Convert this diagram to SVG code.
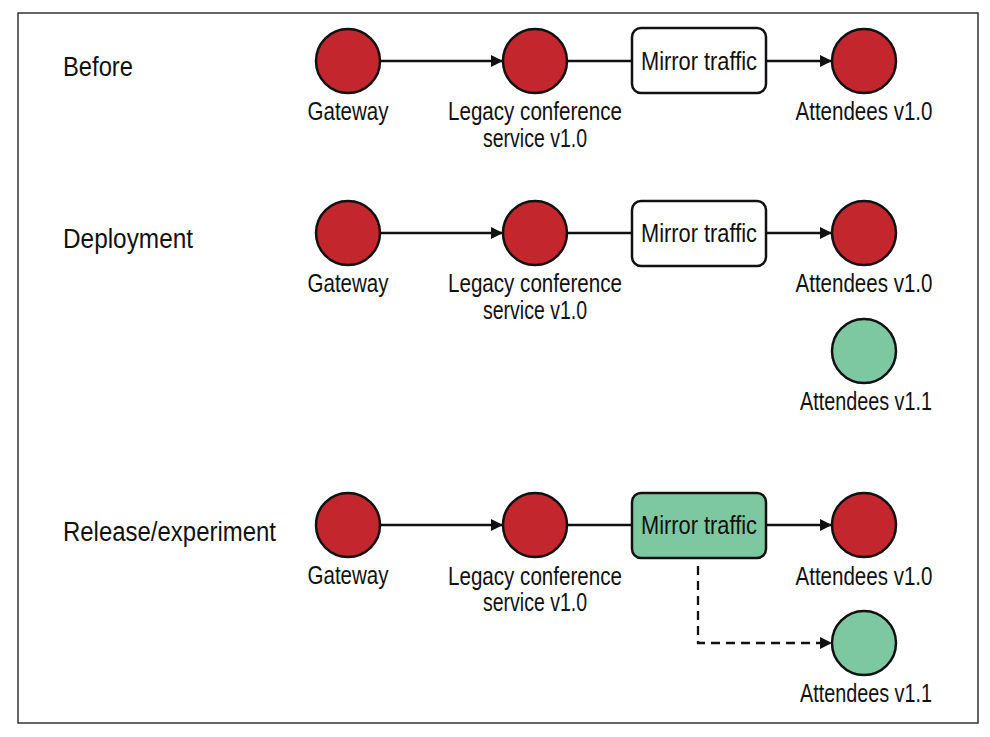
<svg xmlns="http://www.w3.org/2000/svg" width="990" height="737" viewBox="0 0 990 737">
<defs>
<style>
.frame{fill:#fff;stroke:#333;stroke-width:1.5}
.red{fill:#c4262e;stroke:#111;stroke-width:2.5}
.green{fill:#7ec8a1;stroke:#111;stroke-width:2.5}
.box{fill:#fff;stroke:#111;stroke-width:2.5}
.gbox{fill:#7ec8a1;stroke:#111;stroke-width:2.5}
.lbl{font-family:"Liberation Sans",Arial,sans-serif;font-size:25.5px;fill:#111;text-anchor:middle}
.sec{font-family:"Liberation Sans",Arial,sans-serif;font-size:27px;fill:#111}
.ln{fill:none;stroke:#111;stroke-width:2.3}
.dash{fill:none;stroke:#111;stroke-width:2.3;stroke-dasharray:9 6}
</style>
<marker id="ah" viewBox="0 0 10 10" refX="10" refY="5" markerWidth="12" markerHeight="12" markerUnits="userSpaceOnUse" orient="auto">
<path d="M0,0 L10,5 L0,10 Z" fill="#111"/>
</marker>
</defs>
<rect class="frame" x="18" y="13" width="960" height="710"/>

<g id="sections">
<text class="sec" x="63" y="76" textLength="70" lengthAdjust="spacingAndGlyphs">Before</text>
<text class="sec" x="63" y="248" textLength="130" lengthAdjust="spacingAndGlyphs">Deployment</text>
<text class="sec" x="63" y="541" textLength="213" lengthAdjust="spacingAndGlyphs">Release/experiment</text>
</g>

<g id="connectors">
<line class="ln" x1="380" y1="61" x2="503" y2="61" marker-end="url(#ah)"/>
<line class="ln" x1="567" y1="61" x2="632" y2="61"/>
<line class="ln" x1="766" y1="61" x2="832" y2="61" marker-end="url(#ah)"/>
<line class="ln" x1="380" y1="233" x2="503" y2="233" marker-end="url(#ah)"/>
<line class="ln" x1="567" y1="233" x2="632" y2="233"/>
<line class="ln" x1="766" y1="233" x2="832" y2="233" marker-end="url(#ah)"/>
<line class="ln" x1="380" y1="525" x2="503" y2="525" marker-end="url(#ah)"/>
<line class="ln" x1="567" y1="525" x2="632" y2="525"/>
<line class="ln" x1="766" y1="525" x2="832" y2="525" marker-end="url(#ah)"/>
<path class="dash" d="M698,566 V643 H832" marker-end="url(#ah)"/>
</g>

<g id="gateway1"><circle class="red" cx="348" cy="61" r="32"/><text class="lbl" x="348" y="120" textLength="81" lengthAdjust="spacingAndGlyphs">Gateway</text></g>
<g id="legacy1"><circle class="red" cx="535" cy="61" r="32"/><text class="lbl" x="535" y="120" textLength="174" lengthAdjust="spacingAndGlyphs">Legacy conference</text><text class="lbl" x="535" y="147" textLength="104" lengthAdjust="spacingAndGlyphs">service v1.0</text></g>
<g id="mirror1"><rect class="box" x="632" y="28" width="134" height="65" rx="9"/><text class="lbl" x="699" y="70" textLength="116" lengthAdjust="spacingAndGlyphs">Mirror traffic</text></g>
<g id="attendees10_1"><circle class="red" cx="864" cy="61" r="32"/><text class="lbl" x="864" y="120" textLength="137" lengthAdjust="spacingAndGlyphs">Attendees v1.0</text></g>

<g id="gateway2"><circle class="red" cx="348" cy="233" r="32"/><text class="lbl" x="348" y="292" textLength="81" lengthAdjust="spacingAndGlyphs">Gateway</text></g>
<g id="legacy2"><circle class="red" cx="535" cy="233" r="32"/><text class="lbl" x="535" y="292" textLength="174" lengthAdjust="spacingAndGlyphs">Legacy conference</text><text class="lbl" x="535" y="319" textLength="104" lengthAdjust="spacingAndGlyphs">service v1.0</text></g>
<g id="mirror2"><rect class="box" x="632" y="201" width="134" height="65" rx="9"/><text class="lbl" x="699" y="242" textLength="116" lengthAdjust="spacingAndGlyphs">Mirror traffic</text></g>
<g id="attendees10_2"><circle class="red" cx="864" cy="233" r="32"/><text class="lbl" x="864" y="292" textLength="137" lengthAdjust="spacingAndGlyphs">Attendees v1.0</text></g>
<g id="attendees11_2"><circle class="green" cx="864" cy="351" r="32"/><text class="lbl" x="866" y="410" textLength="132" lengthAdjust="spacingAndGlyphs">Attendees v1.1</text></g>

<g id="gateway3"><circle class="red" cx="348" cy="525" r="32"/><text class="lbl" x="348" y="584" textLength="81" lengthAdjust="spacingAndGlyphs">Gateway</text></g>
<g id="legacy3"><circle class="red" cx="535" cy="525" r="32"/><text class="lbl" x="535" y="585" textLength="174" lengthAdjust="spacingAndGlyphs">Legacy conference</text><text class="lbl" x="535" y="611" textLength="104" lengthAdjust="spacingAndGlyphs">service v1.0</text></g>
<g id="mirror3"><rect class="gbox" x="632" y="493" width="134" height="65" rx="9"/><text class="lbl" x="699" y="534" textLength="116" lengthAdjust="spacingAndGlyphs">Mirror traffic</text></g>
<g id="attendees10_3"><circle class="red" cx="864" cy="525" r="32"/><text class="lbl" x="864" y="585" textLength="137" lengthAdjust="spacingAndGlyphs">Attendees v1.0</text></g>
<g id="attendees11_3"><circle class="green" cx="864" cy="643" r="32"/><text class="lbl" x="866" y="702" textLength="132" lengthAdjust="spacingAndGlyphs">Attendees v1.1</text></g>
</svg>
